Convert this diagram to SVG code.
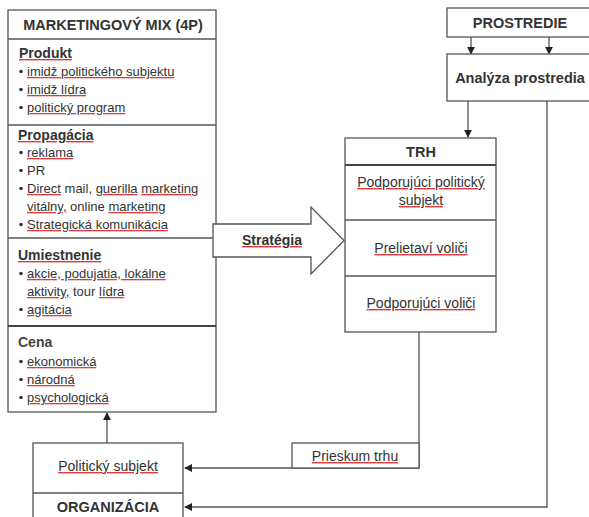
<svg xmlns="http://www.w3.org/2000/svg" width="589" height="517" viewBox="0 0 589 517">
<style>
.box{fill:#fff;stroke:#555;stroke-width:1.3}
.ln{fill:none;stroke:#555;stroke-width:1.3}
.thick{stroke:#444;stroke-width:2.2}
text{font-family:"Liberation Sans",Arial,sans-serif;fill:#333}
.it{font-size:13px}
.rt{font-size:14px}
.hd{font-size:14px;font-weight:bold}
.bd{font-size:14.5px;font-weight:bold}
.c{text-anchor:middle}
.sp{fill:#e03a3a;text-decoration:underline}
.sp tspan{fill:#333}
.bul{fill:#333}
</style>
<defs>
<marker id="ah" viewBox="0 0 10 10" refX="9" refY="5" markerWidth="8" markerHeight="8" markerUnits="userSpaceOnUse" orient="auto">
<path d="M0,0 L10,5 L0,10 z" fill="#222"/>
</marker>
</defs>
<g id="connectors">
<path class="ln" d="M471,37 V54" marker-end="url(#ah)"/>
<path class="ln" d="M549,37 V54" marker-end="url(#ah)"/>
<path class="ln" d="M468,101 V137" marker-end="url(#ah)"/>
<path class="ln" d="M547,101 V507 H185" marker-end="url(#ah)"/>
<path class="ln" d="M419,332 V468 H185" marker-end="url(#ah)"/>
<path class="ln" d="M107,443 V413" marker-end="url(#ah)"/>
</g>
<g id="marketing-mix">
<rect class="box" x="8" y="10" width="208" height="402"/>
<line class="ln" x1="8" y1="39" x2="216" y2="39"/>
<line class="ln" x1="8" y1="125" x2="216" y2="125"/>
<line class="ln" x1="8" y1="238" x2="216" y2="238"/>
<line class="ln thick" x1="8" y1="326" x2="216" y2="326"/>
<text class="bd c" x="113" y="30">MARKETINGOVÝ MIX (4P)</text>
<text class="hd" x="19" y="58"><tspan class="sp"><tspan>Produkt</tspan></tspan></text>
<circle class="bul" cx="21" cy="71.5" r="1.8"/>
<text class="it" x="27" y="76"><tspan class="sp"><tspan>imidž politického subjektu</tspan></tspan></text>
<circle class="bul" cx="21" cy="89.5" r="1.8"/>
<text class="it" x="27" y="94"><tspan class="sp"><tspan>imidž lídra</tspan></tspan></text>
<circle class="bul" cx="21" cy="107.5" r="1.8"/>
<text class="it" x="27" y="112"><tspan class="sp"><tspan>politický program</tspan></tspan></text>
<text class="hd" x="18" y="140"><tspan class="sp"><tspan>Propagácia</tspan></tspan></text>
<circle class="bul" cx="21" cy="152.5" r="1.8"/>
<text class="it" x="27" y="157"><tspan class="sp"><tspan>reklama</tspan></tspan></text>
<circle class="bul" cx="21" cy="170.5" r="1.8"/>
<text class="it" x="27" y="175">PR</text>
<circle class="bul" cx="21" cy="188.5" r="1.8"/>
<text class="it" x="27" y="193"><tspan class="sp"><tspan>Direct</tspan></tspan> mail, <tspan class="sp"><tspan>guerilla</tspan></tspan> <tspan class="sp"><tspan>marketing</tspan></tspan></text>
<text class="it" x="27" y="211"><tspan class="sp"><tspan>vitálny,</tspan></tspan> online <tspan class="sp"><tspan>marketing</tspan></tspan></text>
<circle class="bul" cx="21" cy="224.5" r="1.8"/>
<text class="it" x="27" y="229"><tspan class="sp"><tspan>Strategická komunikácia</tspan></tspan></text>
<text class="hd" x="18" y="260"><tspan class="sp"><tspan>Umiestnenie</tspan></tspan></text>
<circle class="bul" cx="21" cy="273.5" r="1.8"/>
<text class="it" x="27" y="278"><tspan class="sp"><tspan>akcie, podujatia, lokálne</tspan></tspan></text>
<text class="it" x="27" y="296"><tspan class="sp"><tspan>aktivity,</tspan></tspan> tour <tspan class="sp"><tspan>lídra</tspan></tspan></text>
<circle class="bul" cx="21" cy="309.5" r="1.8"/>
<text class="it" x="27" y="314"><tspan class="sp"><tspan>agitácia</tspan></tspan></text>
<text class="hd" x="18" y="347" style="fill:#444">Cena</text>
<circle class="bul" cx="21" cy="361.5" r="1.8"/>
<text class="it" x="27" y="366"><tspan class="sp"><tspan>ekonomická</tspan></tspan></text>
<circle class="bul" cx="21" cy="379.5" r="1.8"/>
<text class="it" x="27" y="384"><tspan class="sp"><tspan>národná</tspan></tspan></text>
<circle class="bul" cx="21" cy="397.5" r="1.8"/>
<text class="it" x="27" y="402"><tspan class="sp"><tspan>psychologická</tspan></tspan></text>
</g>
<g id="strategia">
<polygon class="box" points="213,224 311,224 311,207 344,240.5 311,274 311,257 213,257"/>
<text class="hd c" x="272" y="245"><tspan class="sp"><tspan>Stratégia</tspan></tspan></text>
</g>
<g id="prostredie">
<rect class="box" x="447" y="8" width="150" height="29"/>
<text class="bd c" x="520" y="28">PROSTREDIE</text>
</g>
<g id="analyza">
<rect class="box" x="447" y="54" width="150" height="47"/>
<text class="bd c" x="520" y="83">Analýza prostredia</text>
</g>
<g id="trh">
<rect class="box" x="345" y="138" width="151" height="194"/>
<line class="ln thick" x1="345" y1="165" x2="496" y2="165"/>
<line class="ln" x1="345" y1="220" x2="496" y2="220"/>
<line class="ln" x1="345" y1="276" x2="496" y2="276"/>
<text class="bd c" x="421" y="157">TRH</text>
<text class="rt c" x="421" y="187"><tspan class="sp"><tspan>Podporujúci politický</tspan></tspan></text>
<text class="rt c" x="421" y="205"><tspan class="sp"><tspan>subjekt</tspan></tspan></text>
<text class="rt c" x="421" y="253"><tspan class="sp"><tspan>Prelietaví voliči</tspan></tspan></text>
<text class="rt c" x="421" y="308"><tspan class="sp"><tspan>Podporujúci voliči</tspan></tspan></text>
</g>
<g id="prieskum">
<rect class="box" x="292" y="443" width="127" height="25"/>
<text class="rt c" x="355" y="461"><tspan class="sp"><tspan>Prieskum trhu</tspan></tspan></text>
</g>
<g id="organizacia">
<rect class="box" x="33" y="443" width="150" height="80"/>
<line class="ln" x1="33" y1="493" x2="183" y2="493"/>
<text class="rt c" x="108" y="471"><tspan class="sp"><tspan>Politický subjekt</tspan></tspan></text>
<text class="bd c" x="108" y="512">ORGANIZÁCIA</text>
</g>
</svg>
